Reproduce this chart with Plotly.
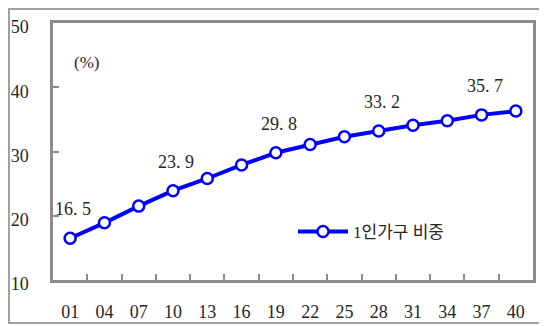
import plotly.graph_objects as go

years = ["01", "04", "07", "10", "13", "16", "19", "22", "25", "28", "31", "34", "37", "40"]
share = [16.5, 18.9, 21.5, 23.9, 25.8, 27.9, 29.8, 31.1, 32.3, 33.2, 34.1, 34.8, 35.7, 36.3]
labeled_years = ["01", "10", "19", "28", "37"]
series_name = "1인가구 비중"
y_ticks = [10, 20, 30, 40, 50]

FONT = "Liberation Serif, Noto Sans CJK KR, serif"
BLUE = "#0000ff"
GRAY = "#8c8c8c"
TXT = "#262626"

# page body has an 8px margin; figure is sized to fit the window
W, H = 539, 318
ML, MR, MT, MB = 45, 14, 15, 46
PW, PH = W - ML - MR, H - MT - MB

fig = go.Figure()
fig.add_trace(go.Scatter(
    x=years, y=share, mode="lines+markers", name=series_name,
    line=dict(color=BLUE, width=4),
    marker=dict(symbol="circle", size=11, color="white", line=dict(color=BLUE, width=2.5)),
))

for yr in labeled_years:
    i = years.index(yr)
    v = share[i]
    fig.add_annotation(x=i, y=v, text=f"{v:.1f}".replace(".", ". "), showarrow=False,
                       yshift=29, xshift=3, font=dict(family=FONT, size=18, color=TXT))

fig.add_annotation(xref="paper", yref="paper", x=0.04, y=0.89, text="(%)", showarrow=False,
                   xanchor="left", font=dict(family=FONT, size=17, color=TXT))

# outer border
fig.add_shape(type="rect", xref="paper", yref="paper",
              x0=(1 - ML) / PW, x1=(538 - ML) / PW,
              y0=(MT + PH - 315) / PH, y1=(MT + PH - 1) / PH,
              line=dict(color="#a0a0a0", width=2), layer="below")

fig.update_layout(
    width=W, height=H,
    margin=dict(l=ML, r=MR, t=MT, b=MB),
    paper_bgcolor="white", plot_bgcolor="white",
    font=dict(family=FONT, size=18, color=TXT),
    showlegend=True,
    legend=dict(x=0.5, y=0.187, xanchor="left", yanchor="middle", bgcolor="rgba(0,0,0,0)",
                font=dict(family=FONT, size=17, color=TXT), itemwidth=50),
)
fig.update_xaxes(type="category", range=[-0.5, len(years) - 0.5], automargin=False,
                 showline=True, linecolor=GRAY, linewidth=2.5, mirror=True,
                 ticks="inside", ticklen=6, tickcolor=GRAY, tickwidth=1.5,
                 tickson="boundaries", showgrid=False, ticklabelstandoff=14)
fig.update_yaxes(range=[10, 50], tickvals=y_ticks, automargin=False,
                 showline=True, linecolor=GRAY, linewidth=2.5, mirror=True,
                 ticks="inside", ticklen=6, tickcolor=GRAY, tickwidth=1.5,
                 showgrid=False, zeroline=False, ticklabelstandoff=18, ticklabelshift=4)

fig.write_html("out.html")
